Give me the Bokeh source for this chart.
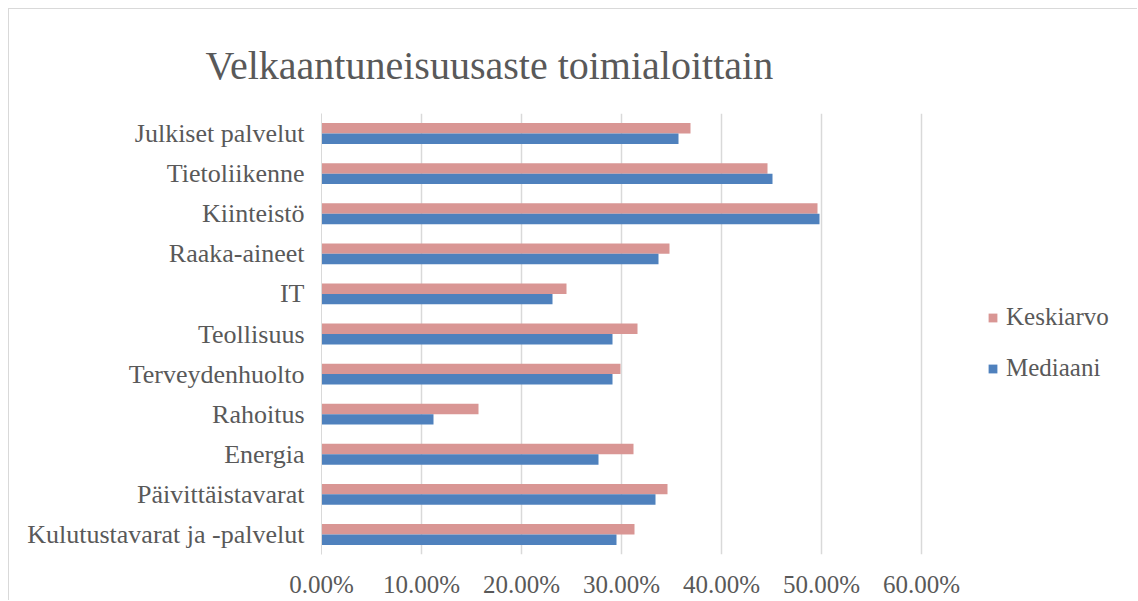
from bokeh.plotting import figure
from bokeh.models import (ColumnDataSource, FactorRange, Range1d, FixedTicker,
                          NumeralTickFormatter, Legend, LegendItem)
from bokeh.transform import dodge
from bokeh.embed import file_html
from bokeh.resources import INLINE

categories = ["Kulutustavarat ja -palvelut", "Päivittäistavarat", "Energia", "Rahoitus",
              "Terveydenhuolto", "Teollisuus", "IT", "Raaka-aineet", "Kiinteistö",
              "Tietoliikenne", "Julkiset palvelut"]
keskiarvo = [0.313, 0.346, 0.312, 0.157, 0.299, 0.316, 0.245, 0.348, 0.496, 0.446, 0.369]
mediaani = [0.295, 0.334, 0.277, 0.112, 0.291, 0.291, 0.231, 0.337, 0.498, 0.451, 0.357]
x_ticks = [0.0, 0.1, 0.2, 0.3, 0.4, 0.5, 0.6]

FONT = "Liberation Serif"
TXT = "#595959"
GRID = "#D9D9D9"
PINK = "#D99694"
BLUE = "#4F81BD"

src = ColumnDataSource(dict(cat=categories, k=keskiarvo, m=mediaani))

# frame spans to the right edge so the legend (drawn in the frame) is not clipped;
# 0.6 lands where the reference's last gridline is.
p = figure(width=1129, height=592, output_backend="svg", toolbar_location=None,
           y_range=FactorRange(*categories), x_range=Range1d(0, 0.817),
           min_border_left=312, min_border_right=0, min_border_top=104,
           min_border_bottom=47,
           styles={"border-top": "1px solid #D9D9D9", "border-left": "1px solid #D9D9D9",
                   "margin-top": "8px", "margin-left": "8px"})
p.outline_line_color = None
p.background_fill_color = "white"
p.border_fill_color = "white"

rk = p.hbar(y=dodge("cat", 0.13, range=p.y_range), left=0, right="k", height=0.26,
            source=src, fill_color=PINK, line_color=None)
rm = p.hbar(y=dodge("cat", -0.13, range=p.y_range), left=0, right="m", height=0.26,
            source=src, fill_color=BLUE, line_color=None)

# title
p.title.text = "Velkaantuneisuusaste toimialoittain"
p.title.text_font = FONT
p.title.text_font_size = "40px"
p.title.text_font_style = "normal"
p.title.text_color = TXT
p.title.align = "left"
p.title.offset = -116
p.title.standoff = 51

# x axis
xa = p.xaxis[0]
xa.ticker = FixedTicker(ticks=x_ticks)
xa.formatter = NumeralTickFormatter(format="0.00%")
xa.axis_line_color = None
xa.major_tick_line_color = None
xa.minor_tick_line_color = None
xa.major_label_text_font = FONT
xa.major_label_text_font_size = "25px"
xa.major_label_text_color = TXT
xa.major_label_standoff = 10

# y axis
ya = p.yaxis[0]
ya.axis_line_color = GRID
ya.axis_line_width = 1
ya.major_tick_line_color = None
ya.minor_tick_line_color = None
ya.major_label_text_font = FONT
ya.major_label_text_font_size = "26px"
ya.major_label_text_color = TXT
ya.major_label_standoff = 11

p.ygrid.grid_line_color = None
p.xgrid.grid_line_color = GRID
p.xgrid.grid_line_width = 1.5
p.xgrid.ticker = FixedTicker(ticks=x_ticks)

lg = Legend(items=[LegendItem(label="Keskiarvo", renderers=[rk]),
                   LegendItem(label="Mediaani", renderers=[rm])],
            location=(666, 172), orientation="vertical")
lg.label_text_font = FONT
lg.label_text_font_size = "25px"
lg.label_text_color = TXT
lg.glyph_width = 11
lg.glyph_height = 11
lg.label_standoff = 8
lg.label_height = 24
lg.padding = 0
lg.margin = 0
lg.spacing = 23
lg.border_line_color = None
lg.background_fill_alpha = 0
p.add_layout(lg, "center")

open("out.html", "w").write(file_html(p, INLINE))
